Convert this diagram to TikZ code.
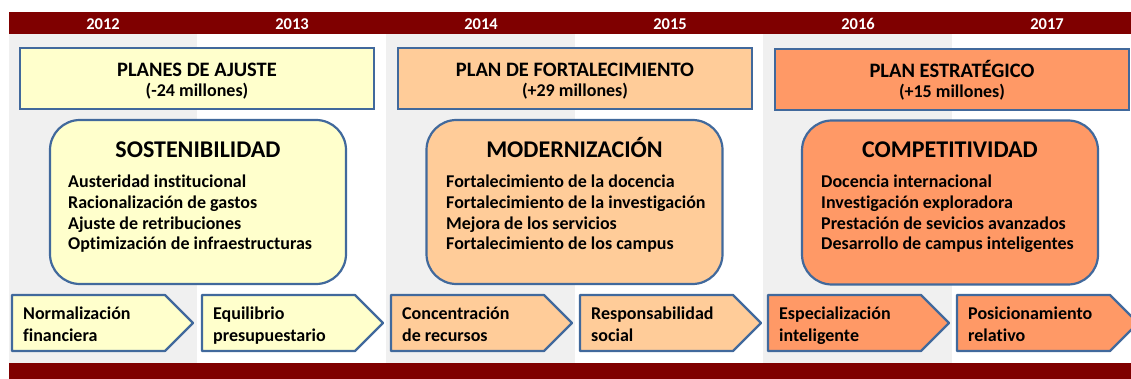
\documentclass[tikz,border=0pt]{standalone}
\usepackage{fontspec}
\setmainfont{Carlito}[Ligatures=NoCommon]
\definecolor{barred}{HTML}{7F0000}
\definecolor{colgray}{HTML}{F0F0F0}
\definecolor{edgeblue}{HTML}{41699C}
\definecolor{fillA}{HTML}{FFFFCC}
\definecolor{fillB}{HTML}{FFCC99}
\definecolor{fillC}{HTML}{FF9966}
\begin{document}
\begin{tikzpicture}[x=1pt,y=-1pt,
  year/.style={text=white,font=\bfseries\fontsize{16.5}{18}\selectfont,inner sep=0pt,anchor=base},
  planbox/.style={draw=edgeblue,line width=2.2pt,minimum width=354pt,minimum height=61pt,inner sep=0pt},
  plantitle/.style={font=\bfseries\fontsize{20.5}{22}\selectfont,inner sep=0pt,anchor=base},
  plansub/.style={font=\bfseries\fontsize{18}{19}\selectfont,inner sep=0pt,anchor=base},
  mainbox/.style={draw=edgeblue,line width=2.2pt,rounded corners=30pt,minimum width=296pt,minimum height=164pt,inner sep=0pt},
  maintitle/.style={font=\bfseries\fontsize{24}{25}\selectfont,inner sep=0pt,anchor=base},
  itemline/.style={font=\bfseries\fontsize{18}{20}\selectfont,anchor=base west,inner sep=0pt},
  arrowtext/.style={font=\bfseries\fontsize{18}{20}\selectfont,anchor=base west,inner sep=0pt},
  arrowshape/.style={draw=edgeblue,line width=2.2pt,line join=round}
]
\useasboundingbox (0,0) rectangle (1131,379);
\fill[white] (0,0) rectangle (1131,379);
% columns
\fill[colgray] (9,34) rectangle (197,363);
\fill[colgray] (386,34) rectangle (575,363);
\fill[colgray] (763,34) rectangle (952,363);
% bars
\fill[barred] (9,12) rectangle (1131,34);
\fill[barred] (9,363) rectangle (1131,379);
% years
\node[year] (y2012) at (103,29.5) {2012};
\node[year] (y2013) at (292,29.5) {2013};
\node[year] (y2014) at (481,29.5) {2014};
\node[year] (y2015) at (670,29.5) {2015};
\node[year] (y2016) at (858,29.5) {2016};
\node[year] (y2017) at (1047,29.5) {2017};
% plan boxes
\node[planbox,fill=fillA] (planA) at (197,78.5) {};
\node[plantitle] (planAt) at (197,77) {PLANES DE AJUSTE};
\node[plansub] (planAs) at (197,97) {(-24 millones)};
\node[planbox,fill=fillB] (planB) at (575,78.5) {};
\node[plantitle] (planBt) at (575,77) {PLAN DE FORTALECIMIENTO};
\node[plansub] (planBs) at (575,97) {(+29 millones)};
\node[planbox,fill=fillC] (planC) at (952,79.5) {};
\node[plantitle] (planCt) at (952,77.5) {PLAN ESTRATÉGICO};
\node[plansub] (planCs) at (952,97.5) {(+15 millones)};
% main boxes
\node[mainbox,fill=fillA] (mainA) at (198,202) {};
\node[maintitle] (mainAt) at (198,157.5) {SOSTENIBILIDAD};
\node[mainbox,fill=fillB] (mainB) at (574.5,202) {};
\node[maintitle] (mainBt) at (574.5,157.5) {MODERNIZACIÓN};
\node[mainbox,fill=fillC] (mainC) at (950,202.5) {};
\node[maintitle] (mainCt) at (950,158) {COMPETITIVIDAD};
\foreach \x/\n/\a/\b/\c/\d in {
   68/mainA/Austeridad institucional/Racionalización de gastos/Ajuste de retribuciones/Optimización de infraestructuras,
   446/mainB/Fortalecimiento de la docencia/Fortalecimiento de la investigación/Mejora de los servicios/Fortalecimiento de los campus,
   821/mainC/Docencia internacional/Investigación exploradora/Prestación de sevicios avanzados/Desarrollo de campus inteligentes}{
  \node[itemline] (\n-i1) at (\x,188) {\a};
  \node[itemline] (\n-i2) at (\x,208.6) {\b};
  \node[itemline] (\n-i3) at (\x,229.2) {\c};
  \node[itemline] (\n-i4) at (\x,249.8) {\d};
}
% arrows
\foreach \x/\c/\n/\a/\b in {12/fillA/arA/Normalización/financiera,
                          202/fillA/arB/Equilibrio/presupuestario,
                          391/fillB/arC/Concentración/de recursos,
                          580/fillB/arD/Responsabilidad/social,
                          768/fillC/arE/Especialización/inteligente,
                          957/fillC/arF/Posicionamiento/relativo}{
  \draw[arrowshape,fill=\c] (\x,295) -- ++(153,0) -- ++(28,28) -- ++(-28,28) -- ++(-153,0) -- cycle;
  \node[arrowtext] (\n-1) at ({\x+11},319) {\a};
  \node[arrowtext] (\n-2) at ({\x+11},341) {\b};
}
\end{tikzpicture}
\end{document}
